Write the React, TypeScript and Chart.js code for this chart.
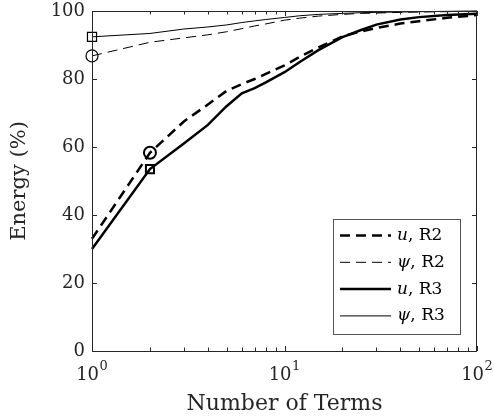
import React, { useEffect, useRef } from "react";
import { Chart, registerables } from "chart.js";
Chart.register(...registerables);

const terms = [1, 2, 3, 4, 5, 6, 7, 8, 10, 12, 15, 20, 25, 30, 40, 50, 70, 100];
const uR2 = [33, 58.3, 67.5, 72.5, 76.5, 78.5, 80, 81.5, 84, 86.5, 89.3, 92.5, 94, 95, 96.3, 97, 98, 98.8];
const psiR2 = [86.8, 90.8, 92.1, 93, 93.9, 94.8, 95.6, 96.2, 97.3, 97.9, 98.5, 99, 99.3, 99.4, 99.6, 99.7, 99.8, 99.9];
const uR3 = [30, 53.5, 61, 66.5, 72, 75.8, 77.3, 79, 82, 85, 88.5, 92.3, 94.4, 96, 97.5, 98.2, 98.8, 99.2];
const psiR3 = [92.4, 93.4, 94.7, 95.3, 95.9, 96.6, 97.1, 97.5, 98.1, 98.6, 99, 99.3, 99.5, 99.6, 99.7, 99.8, 99.9, 100];
const xTickValues = [1, 10, 100];
const xTickBase = "10";
const xTickExps = ["0", "1", "2"];
const yTicks = [0, 20, 40, 60, 80, 100];
const seriesNames = ["u", "\u03C8", "u", "\u03C8"];
const seriesRuns = [", R2", ", R2", ", R3", ", R3"];

const AX = "#262626";
const FONT = "DejaVu Serif";

const toPts = (ys: number[]) => terms.map((x, i) => ({ x, y: ys[i] }));

const styles = [
  { w: 2.5, dash: [10, 6] },
  { w: 1, dash: [10, 6] },
  { w: 2.5, dash: [] as number[] },
  { w: 1, dash: [] as number[] },
];

const frame = {
  id: "frame",
  afterDatasetsDraw(chart: any) {
    const { ctx, chartArea: a, scales } = chart;
    const xs = scales.x, ys = scales.y;
    ctx.save();
    ctx.strokeStyle = AX;
    ctx.lineWidth = 1;
    ctx.strokeRect(a.left + 0.5, a.top + 0.5, a.right - a.left - 1, a.bottom - a.top);
    ctx.beginPath();
    for (let d = 1; d <= 100; d *= 10) {
      for (let m = 1; m < 10; m++) {
        const v = d * m;
        if (v > 100) break;
        const px = Math.round(xs.getPixelForValue(v)) + 0.5;
        const len = m === 1 ? 5 : 3.5;
        ctx.moveTo(px, a.bottom);
        ctx.lineTo(px, a.bottom - len);
        ctx.moveTo(px, a.top);
        ctx.lineTo(px, a.top + len);
      }
    }
    yTicks.forEach((v) => {
      const py = Math.round(ys.getPixelForValue(v)) + 0.5;
      ctx.moveTo(a.left, py);
      ctx.lineTo(a.left + 5, py);
      ctx.moveTo(a.right, py);
      ctx.lineTo(a.right - 5, py);
    });
    ctx.stroke();

    // x tick labels with superscript exponents
    ctx.fillStyle = AX;
    ctx.textBaseline = "alphabetic";
    ctx.textAlign = "left";
    xTickValues.forEach((v, i) => {
      const px = xs.getPixelForValue(v);
      ctx.font = `18px ${FONT}`;
      const wb = ctx.measureText(xTickBase).width;
      ctx.font = `13px ${FONT}`;
      const we = ctx.measureText(xTickExps[i]).width;
      const x0 = px - (wb + we + 0.5) / 2;
      ctx.font = `18px ${FONT}`;
      ctx.fillText(xTickBase, x0, a.bottom + 29);
      ctx.font = `13px ${FONT}`;
      ctx.fillText(xTickExps[i], x0 + wb + 0.5, a.bottom + 19);
    });

    // legend
    const L = a.right - 144, R = a.right - 17, T = a.bottom - 132, B = a.bottom - 17;
    ctx.fillStyle = "#fff";
    ctx.fillRect(L, T, R - L, B - T);
    ctx.strokeStyle = "#555";
    ctx.lineWidth = 1;
    ctx.strokeRect(L + 0.5, T + 0.5, R - L, B - T);
    const rowH = 26.8;
    styles.forEach((s, i) => {
      const y = T + 16.5 + i * rowH;
      ctx.beginPath();
      ctx.strokeStyle = "#000";
      ctx.lineWidth = s.w;
      ctx.setLineDash(s.dash);
      ctx.moveTo(L + 7, y);
      ctx.lineTo(L + 58, y);
      ctx.stroke();
      ctx.setLineDash([]);
      ctx.fillStyle = "#000";
      ctx.textBaseline = "middle";
      ctx.font = `italic 17px ${FONT}`;
      const tx = L + 64;
      ctx.fillText(seriesNames[i], tx, y);
      const w = ctx.measureText(seriesNames[i]).width;
      ctx.font = `17px ${FONT}`;
      ctx.fillText(seriesRuns[i], tx + w, y);
    });
    ctx.restore();
  },
};

export default function App() {
  const ref = useRef<HTMLCanvasElement>(null);
  useEffect(() => {
    document.body.style.margin = "0";
    const mk = (label: string, ys: number[], i: number, marker: string | null, mi: number, r: number, bw: number) => ({
      label,
      data: toPts(ys),
      borderColor: "#000",
      borderWidth: styles[i].w,
      borderDash: styles[i].dash,
      pointStyle: marker || "circle",
      pointRadius: (c: any) => (marker && c.dataIndex === mi ? r : 0),
      pointBorderWidth: bw,
      pointBorderColor: "#000",
      pointBackgroundColor: "rgba(0,0,0,0)",
      pointHoverRadius: 0,
      tension: 0,
      clip: false as any,
    });
    const chart = new Chart(ref.current!, {
      type: "line",
      data: {
        datasets: [
          mk("u, R2", uR2, 0, "circle", 1, 6, 2),
          mk("ψ, R2", psiR2, 1, "circle", 0, 6, 1.2),
          mk("u, R3", uR3, 2, "rect", 1, 5.7, 2),
          mk("ψ, R3", psiR3, 3, "rect", 0, 6.4, 1.2),
        ],
      },
      options: {
        animation: false,
        responsive: false,
        layout: { padding: { left: 0, right: 17, top: 11, bottom: 0 } },
        plugins: { legend: { display: false }, tooltip: { enabled: false } },
        scales: {
          x: {
            type: "logarithmic",
            min: 1,
            max: 100,
            grid: { display: false, drawTicks: false },
            border: { display: false },
            afterFit: (s: any) => {
              s.height = 67;
              s.paddingLeft = 0;
              s.paddingRight = 0;
            },
            ticks: { display: false },
            title: {
              display: true,
              text: "Number of Terms",
              color: AX,
              font: { family: FONT, size: 22 },
              padding: { top: 0, bottom: 1 },
            },
          },
          y: {
            min: 0,
            max: 100,
            grid: { display: false, drawTicks: false },
            border: { display: false },
            afterFit: (s: any) => {
              s.width = 92;
              s.paddingTop = 0;
              s.paddingBottom = 0;
            },
            afterBuildTicks: (s: any) => { s.ticks = yTicks.map((v) => ({ value: v })); },
            ticks: {
              padding: 7,
              color: AX,
              font: { family: FONT, size: 18 },
            },
            title: {
              display: true,
              text: "Energy (%)",
              color: AX,
              font: { family: FONT, size: 21 },
              padding: { top: 7, bottom: 7 },
            },
          },
        },
      },
      plugins: [frame],
    });
    return () => chart.destroy();
  }, []);
  return <canvas ref={ref} width={494} height={418} style={{ display: "block" }} />;
}
